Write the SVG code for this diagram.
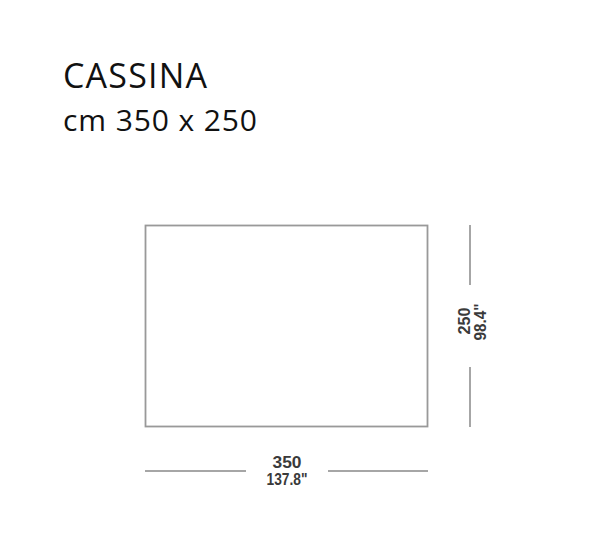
<svg xmlns="http://www.w3.org/2000/svg" width="600" height="540" viewBox="0 0 600 540">
<style>
.title{font-family:"Open Sans","Noto Sans",sans-serif;fill:#111;}
.dim{font-family:"Liberation Sans",Arial,sans-serif;font-weight:bold;fill:#3a3a3a;font-size:16px;}
.ln{stroke:#888;stroke-width:1.5;fill:none;}
</style>
<rect width="600" height="540" fill="#fff"/>
<g id="title">
<text class="title" x="63" y="88" font-size="34" textLength="144">CASSINA</text>
<text class="title" x="63" y="131" font-size="30" textLength="194">cm 350 x 250</text>
</g>
<g id="table">
<rect x="145.5" y="225.5" width="282" height="201" fill="#fff" stroke="#999" stroke-width="1.8"/>
</g>
<g id="connectors">
<line class="ln" x1="470" y1="225" x2="470" y2="285"/>
<line class="ln" x1="470" y1="367" x2="470" y2="427"/>
<line class="ln" x1="145" y1="471" x2="246" y2="471"/>
<line class="ln" x1="328" y1="471" x2="428" y2="471"/>
</g>
<g id="labels">
<text class="dim" x="287" y="468" text-anchor="middle" textLength="29" lengthAdjust="spacingAndGlyphs">350</text>
<text class="dim" x="287" y="485" text-anchor="middle" textLength="41" lengthAdjust="spacingAndGlyphs">137.8"</text>
<text class="dim" transform="translate(470,321) rotate(-90)" text-anchor="middle" textLength="27" lengthAdjust="spacingAndGlyphs">250</text>
<text class="dim" transform="translate(486,322) rotate(-90)" text-anchor="middle" textLength="37" lengthAdjust="spacingAndGlyphs">98.4"</text>
</g>
</svg>
